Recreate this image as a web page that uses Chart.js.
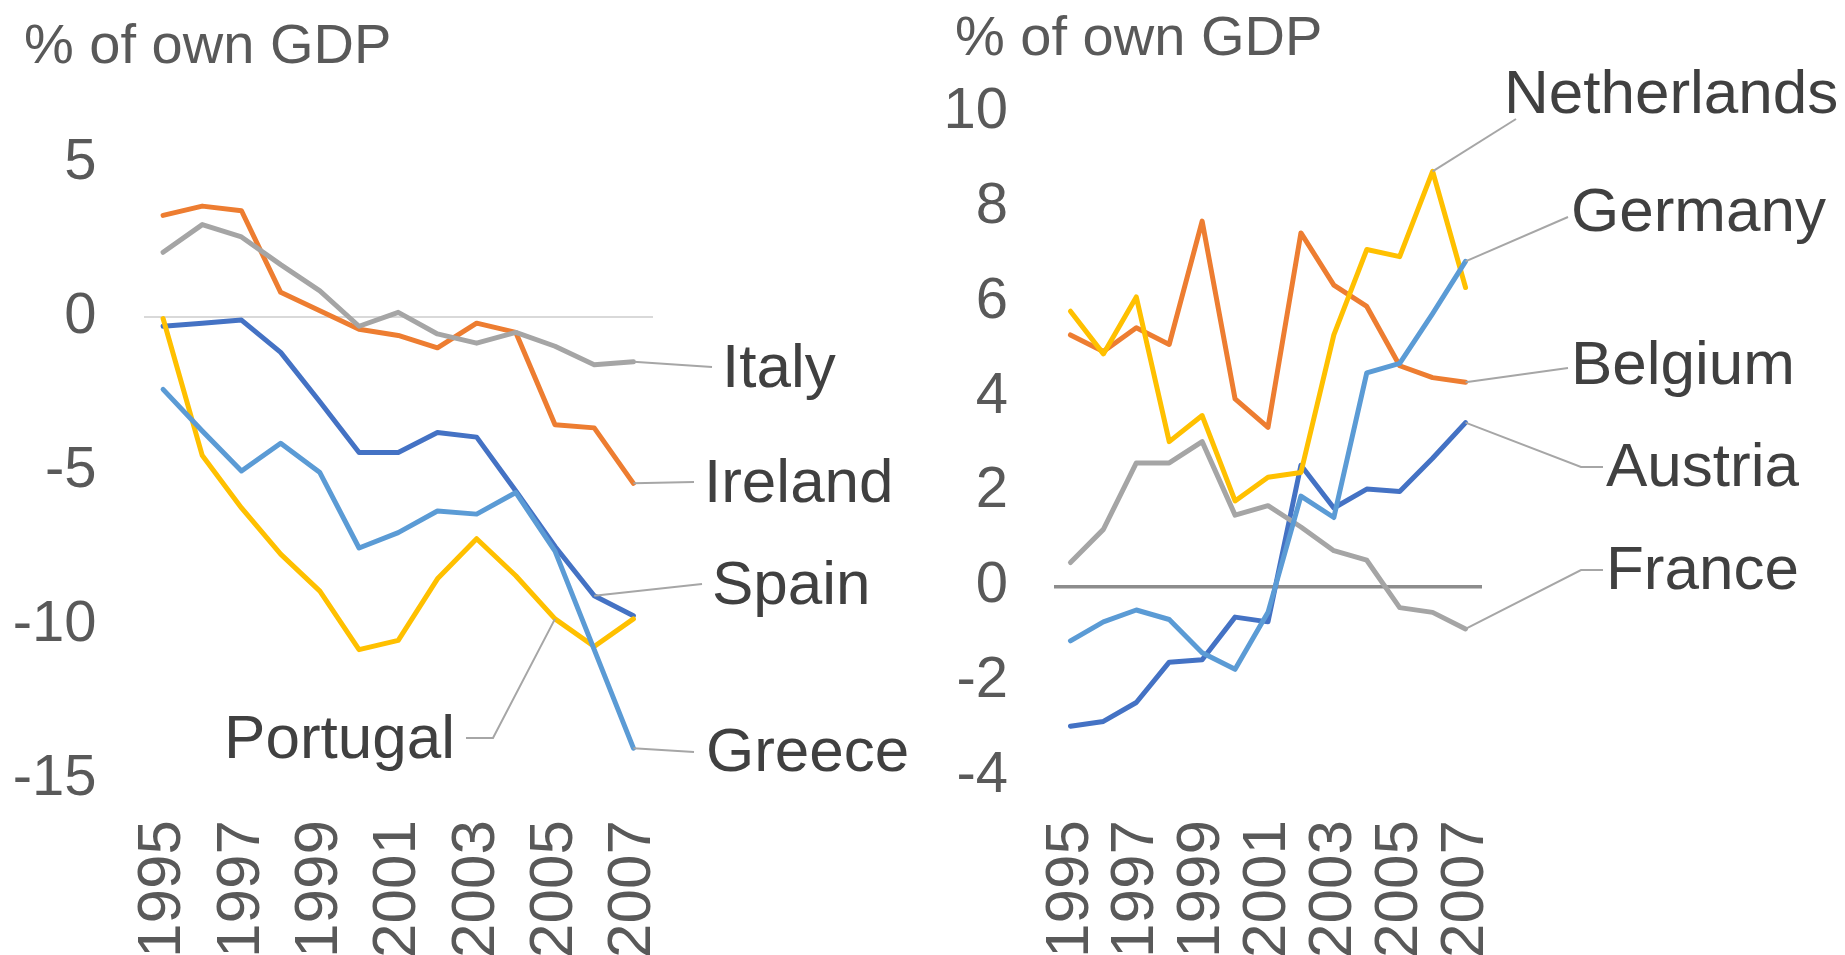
<!DOCTYPE html>
<html>
<head>
<meta charset="utf-8">
<script src="https://cdn.jsdelivr.net/npm/chart.js@4.4.1/dist/chart.umd.min.js"></script>
<style>
  html, body { margin: 0; padding: 0; background: #fff; overflow: hidden; }
  body { width: 1845px; height: 955px; position: relative; }
  .box { position: absolute; top: 0; height: 1000px; }
  #leftBox { left: 0; width: 920px; }
  #rightBox { left: 920px; width: 925px; }
</style>
</head>
<body>
<div class="box" id="leftBox"><canvas id="leftChart"></canvas></div>
<div class="box" id="rightBox"><canvas id="rightChart"></canvas></div>
<script>
const years = ['1995', '1996', '1997', '1998', '1999', '2000', '2001', '2002', '2003', '2004', '2005', '2006', '2007'];

// deficit countries (left panel)
const spain    = [-0.3, -0.2, -0.1, -1.15, -2.75, -4.4, -4.4, -3.75, -3.9, -5.65, -7.45, -9.05, -9.7];
const ireland  = [3.3, 3.6, 3.45, 0.8, 0.2, -0.4, -0.6, -1.0, -0.2, -0.5, -3.5, -3.6, -5.4];
const italy    = [2.1, 3.0, 2.6, 1.7, 0.85, -0.3, 0.15, -0.55, -0.85, -0.5, -0.95, -1.55, -1.45];
const portugal = [-0.05, -4.5, -6.2, -7.7, -8.9, -10.8, -10.5, -8.5, -7.2, -8.4, -9.8, -10.7, -9.8];
const greece   = [-2.35, -3.7, -5.0, -4.1, -5.05, -7.5, -7.0, -6.3, -6.4, -5.7, -7.6, -10.8, -14.0];

// surplus countries (right panel)
const austria     = [-2.95, -2.85, -2.45, -1.6, -1.55, -0.65, -0.75, 2.55, 1.65, 2.05, 2.0, 2.7, 3.45];
const belgium     = [5.3, 4.95, 5.45, 5.1, 7.7, 3.95, 3.35, 7.45, 6.35, 5.9, 4.65, 4.4, 4.3];
const france      = [0.5, 1.2, 2.6, 2.6, 3.05, 1.5, 1.7, 1.25, 0.75, 0.55, -0.45, -0.55, -0.9];
const netherlands = [5.8, 4.9, 6.1, 3.05, 3.6, 1.8, 2.3, 2.4, 5.3, 7.1, 6.95, 8.75, 6.3];
const germany     = [-1.15, -0.75, -0.5, -0.7, -1.4, -1.75, -0.55, 1.9, 1.45, 4.5, 4.7, 5.75, 6.85];

const leftTicks = [5, 0, -5, -10, -15];
const rightTicks = [10, 8, 6, 4, 2, 0, -2, -4];

const BLUE = '#4472C4', ORANGE = '#ED7D31', GRAY = '#A5A5A5', YELLOW = '#FFC000', LIGHTBLUE = '#5B9BD5';
const FONT = '"Liberation Sans", Arial, sans-serif';
Chart.defaults.font.family = FONT;

function series(label, data, color, i) {
  return {
    label, data,
    borderColor: color,
    backgroundColor: color,
    borderWidth: 5,
    pointRadius: 0,
    tension: 0,
    borderJoinStyle: 'round',
    borderCapStyle: 'round',
    order: 5 - i   // later series on top, like the original
  };
}

// title + series labels with leader lines
function callouts(title, titleX, titleY, labels) {
  return {
    id: 'callouts',
    afterDatasetsDraw(chart) {
      const ctx = chart.ctx;
      ctx.save();
      ctx.textBaseline = 'middle';
      ctx.font = '56px ' + FONT;
      ctx.fillStyle = '#595959';
      ctx.textAlign = 'left';
      ctx.fillText(title, titleX, titleY);

      labels.forEach(l => {
        const pt = chart.getDatasetMeta(l.ds).data[l.idx];
        ctx.beginPath();
        ctx.moveTo(pt.x, pt.y);
        l.path.forEach(p => ctx.lineTo(p[0], p[1]));
        ctx.strokeStyle = '#a6a6a6';
        ctx.lineWidth = 2;
        ctx.stroke();

        ctx.font = '62px ' + FONT;
        ctx.fillStyle = '#404040';
        ctx.textAlign = l.align || 'left';
        ctx.fillText(chart.data.datasets[l.ds].label, l.x, l.y);
      });
      ctx.restore();
    }
  };
}

function makeChart(id, datasets, cfg) {
  return new Chart(document.getElementById(id), {
    type: 'line',
    data: { labels: years, datasets },
    options: {
      responsive: true,
      maintainAspectRatio: false,
      animation: false,
      layout: { padding: cfg.padding },
      plugins: { legend: { display: false }, tooltip: { enabled: false } },
      scales: {
        x: {
          offset: true,
          afterFit: axis => { axis.height = cfg.xHeight; },
          grid: { display: false, drawTicks: false },
          border: { display: false },
          ticks: {
            autoSkip: false,
            minRotation: 90,
            maxRotation: 90,
            padding: cfg.xPad,
            color: '#595959',
            font: { size: 62 },
            callback: (v, i) => (i % 2 === 0 ? years[i] : '')
          }
        },
        y: {
          min: cfg.ticks[cfg.ticks.length - 1],
          max: cfg.ticks[0],
          afterBuildTicks: axis => { axis.ticks = cfg.ticks.map(v => ({ value: v })); },
          afterFit: axis => { axis.width = cfg.yWidth; },
          grid: {
            drawTicks: false,
            color: c => (c.tick && c.tick.value === 0 ? cfg.zeroColor : 'rgba(0,0,0,0)'),
            lineWidth: cfg.zeroWidth
          },
          border: { display: false },
          ticks: { padding: cfg.yPad, color: '#595959', font: { size: 58 } }
        }
      }
    },
    plugins: [cfg.callouts]
  });
}

makeChart('leftChart', [
  series('Spain', spain, BLUE, 0),
  series('Ireland', ireland, ORANGE, 1),
  series('Italy', italy, GRAY, 2),
  series('Portugal', portugal, YELLOW, 3),
  series('Greece', greece, LIGHTBLUE, 4)
], {
  padding: { left: 0, top: 163, right: 267, bottom: 0 },
  xHeight: 221, xPad: 41, yWidth: 143.5, yPad: 47,
  ticks: leftTicks, zeroColor: '#d9d9d9', zeroWidth: 2,
  callouts: callouts('% of own GDP', 24, 48, [
    { ds: 2, idx: 12, path: [[712, 367]], x: 722, y: 370 },
    { ds: 1, idx: 12, path: [[694, 482]], x: 704, y: 485 },
    { ds: 0, idx: 11, path: [[702, 584]], x: 712, y: 587 },
    { ds: 3, idx: 10, path: [[493, 738], [466, 738]], x: 455, y: 741, align: 'right' },
    { ds: 4, idx: 12, path: [[694, 752]], x: 706, y: 754 }
  ])
});

makeChart('rightChart', [
  series('Austria', austria, BLUE, 0),
  series('Belgium', belgium, ORANGE, 1),
  series('France', france, GRAY, 2),
  series('Netherlands', netherlands, YELLOW, 3),
  series('Germany', germany, LIGHTBLUE, 4)
], {
  padding: { left: 0, top: 112, right: 363, bottom: 0 },
  xHeight: 224, xPad: 44, yWidth: 134, yPad: 46,
  ticks: rightTicks, zeroColor: '#8c8c8c', zeroWidth: 3.5,
  callouts: callouts('% of own GDP', 35, 40, [
    { ds: 3, idx: 11, path: [[596, 119]], x: 584, y: 96 },
    { ds: 4, idx: 12, path: [[648, 217]], x: 651, y: 214 },
    { ds: 1, idx: 12, path: [[648, 368]], x: 651, y: 367 },
    { ds: 0, idx: 12, path: [[661, 467], [683, 467]], x: 686, y: 469 },
    { ds: 2, idx: 12, path: [[661, 570], [683, 570]], x: 686, y: 572 }
  ])
});
</script>
</body>
</html>
